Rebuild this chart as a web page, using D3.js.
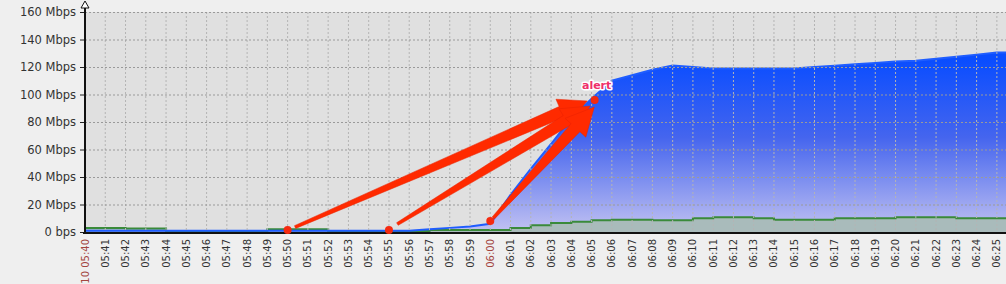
<!DOCTYPE html>
<html>
<head>
  <meta charset="utf-8"/>
  <style>
    body { margin: 0; background-color: #efefef; }
    svg { display: block; font-family: "DejaVu Sans", sans-serif; }
  </style>
</head>
<body>
  <div id="traffic_chart"></div>
  <script src="https://d3js.org/d3.v7.min.js"></script>
  <script>
    // minutes 05:40 .. 06:25
    let minutes = ['05:40', '05:41', '05:42', '05:43', '05:44', '05:45', '05:46', '05:47', '05:48', '05:49',
                   '05:50', '05:51', '05:52', '05:53', '05:54', '05:55', '05:56', '05:57', '05:58', '05:59',
                   '06:00', '06:01', '06:02', '06:03', '06:04', '06:05', '06:06', '06:07', '06:08', '06:09',
                   '06:10', '06:11', '06:12', '06:13', '06:14', '06:15', '06:16', '06:17', '06:18', '06:19',
                   '06:20', '06:21', '06:22', '06:23', '06:24', '06:25'];
    // Mbps
    let inbound = [1, 1, 1, 1, 1, 1, 1, 1, 1, 1,
                   1, 1, 1, 1, 1, 1, 1, 2, 3, 4,
                   6, 27, 46, 64, 83, 97, 110, 114, 118, 121,
                   120, 119, 119, 119, 119, 119, 120, 121, 122, 123,
                   124, 124.5, 126, 127.5, 129, 130.5];
    let outbound = [3, 3, 2.5, 2.5, 0.8, 0.8, 0.8, 0.8, 0.8, 2,
                    2, 2, 0.8, 0.8, 0.8, 0.8, 0.8, 1.5, 1.5, 1.5,
                    1.5, 3, 5, 6.5, 7.5, 8.5, 9, 9, 8.5, 8.5,
                    10, 10.7, 10.7, 10, 9, 9, 9, 10, 10, 10,
                    10.7, 10.7, 10.7, 10, 10, 10];
    let yTicks = [0, 20, 40, 60, 80, 100, 120, 140, 160];
    let tickLabels = minutes.map(function (m, i) { return i === 0 ? '11-10 ' + m : m; });
    let markedTicks = ['05:40', '06:00'];

    // annotation: marked points and arrows (time, Mbps)
    let markerTimes = ['05:50:00', '05:55:00', '06:00:00', '06:05:09'];
    let markerValues = [1.5, 1.5, 8, 96];
    let arrowFrom = [['05:50:22', 3.6], ['05:55:25', 5.8], ['06:00:09', 10.2]];
    let arrowTo = [['06:04:47', 95.3], ['06:04:56', 91.6], ['06:05:08', 90.9]];
    let alertText = 'alert';

    let width = 1006,
        height = 284,
        margin = {'left': 85, 'right': -1, 'top': 12, 'bottom': 52};

    let parseMin = d3.timeParse('%H:%M'),
        parseSec = d3.timeParse('%H:%M:%S');

    let x = d3.scaleTime()
        .domain([parseMin('05:40'), parseSec('06:25:30')])
        .range([margin.left, width - margin.right]);
    let y = d3.scaleLinear()
        .domain([0, 160])
        .range([height - margin.bottom, margin.top]);

    let svg = d3.select('#traffic_chart')
        .append('svg')
        .attr('width', width)
        .attr('height', height);

    let defs = svg.append('defs');
    let grad = defs.append('linearGradient')
        .attr('id', 'blueFill')
        .attr('gradientUnits', 'userSpaceOnUse')
        .attr('x1', 0).attr('x2', 0)
        .attr('y1', y(125)).attr('y2', y(0));
    grad.append('stop').attr('offset', 0).attr('stop-color', '#0a4dff');
    grad.append('stop').attr('offset', 0.45).attr('stop-color', '#4565ee');
    grad.append('stop').attr('offset', 1).attr('stop-color', '#c2c2f2');

    defs.append('clipPath').attr('id', 'plotClip')
        .append('rect')
        .attr('x', margin.left).attr('y', margin.top)
        .attr('width', width - margin.left).attr('height', y(0) - margin.top);

    // plot background
    svg.append('rect')
        .attr('x', margin.left).attr('y', margin.top)
        .attr('width', width - margin.left)
        .attr('height', y(0) - margin.top)
        .attr('fill', '#e0e0e0');

    let inData = minutes.map(function (m, i) { return {t: parseMin(m), v: inbound[i]}; });
    let outData = minutes.map(function (m, i) { return {t: parseMin(m), v: outbound[i]}; });
    inData.push({t: parseSec('06:25:30'), v: inbound[inbound.length - 1]});
    outData.push({t: parseSec('06:25:30'), v: outbound[outbound.length - 1]});

    let plot = svg.append('g').attr('clip-path', 'url(#plotClip)');

    let inArea = d3.area()
        .x(function (d) { return x(d.t); })
        .y0(y(0))
        .y1(function (d) { return y(d.v); });
    let inLine = d3.line()
        .x(function (d) { return x(d.t); })
        .y(function (d) { return y(d.v); });
    let outArea = d3.area()
        .curve(d3.curveStepAfter)
        .x(function (d) { return x(d.t); })
        .y0(y(0))
        .y1(function (d) { return y(d.v); });
    let outLine = d3.line()
        .curve(d3.curveStepAfter)
        .x(function (d) { return x(d.t); })
        .y(function (d) { return y(d.v); });

    plot.append('path').datum(inData)
        .attr('d', inArea)
        .attr('fill', 'url(#blueFill)');
    plot.append('path').datum(outData)
        .attr('d', outArea)
        .attr('fill', '#a9bbbb');

    // grid on top of the areas
    let grid = svg.append('g');
    grid.selectAll('.vgrid')
        .data(minutes.slice(1))
        .enter()
        .append('line')
        .attr('x1', function (m) { return x(parseMin(m)); })
        .attr('x2', function (m) { return x(parseMin(m)); })
        .attr('y1', margin.top)
        .attr('y2', y(0))
        .attr('stroke', '#b4b4b4')
        .attr('stroke-dasharray', '2,2');
    grid.selectAll('.hgrid')
        .data(yTicks.slice(1))
        .enter()
        .append('line')
        .attr('x1', margin.left)
        .attr('x2', width)
        .attr('y1', function (v) { return y(v) + 0.5; })
        .attr('y2', function (v) { return y(v) + 0.5; })
        .attr('stroke', '#9a9a9a')
        .attr('stroke-dasharray', '2,2');

    plot.append('path').datum(outData)
        .attr('d', outLine)
        .attr('fill', 'none')
        .attr('stroke', '#3a8a3a')
        .attr('stroke-width', 2);
    plot.append('path').datum(inData)
        .attr('d', inLine)
        .attr('fill', 'none')
        .attr('stroke', '#1f5dff')
        .attr('stroke-width', 2);

    // y axis
    let yAxis = d3.axisLeft(y)
        .tickValues(yTicks)
        .tickSize(5)
        .tickFormat(function (v) { return v === 0 ? '0 bps' : v + ' Mbps'; });
    let gy = svg.append('g')
        .attr('transform', 'translate(' + margin.left + ',0)')
        .call(yAxis);
    gy.select('.domain').remove();
    gy.selectAll('text')
        .attr('x', -9)
        .attr('font-family', '"DejaVu Sans", sans-serif')
        .attr('font-size', '11.5px')
        .attr('fill', '#333');
    gy.selectAll('line').attr('stroke', '#222');

    svg.append('line')
        .attr('x1', margin.left).attr('x2', margin.left)
        .attr('y1', 4).attr('y2', y(0) + 2)
        .attr('stroke', '#111').attr('stroke-width', 2);
    svg.append('path')
        .attr('d', d3.line()([[margin.left - 4, 8], [margin.left, 1], [margin.left + 4, 8], [margin.left - 4, 8]]))
        .attr('fill', '#fff')
        .attr('stroke', '#111')
        .attr('stroke-width', 1);

    // x axis
    svg.append('line')
        .attr('x1', margin.left - 2).attr('x2', width)
        .attr('y1', y(0) + 1).attr('y2', y(0) + 1)
        .attr('stroke', '#111').attr('stroke-width', 2);

    svg.append('g').selectAll('text')
        .data(minutes)
        .enter()
        .append('text')
        .attr('transform', function (m) { return 'translate(' + x(parseMin(m)) + ',' + (y(0) + 7) + ') rotate(-90)'; })
        .attr('text-anchor', 'end')
        .attr('dy', '0.35em')
        .attr('font-size', '10px')
        .attr('fill', function (m) { return markedTicks.indexOf(m) >= 0 ? '#a3453f' : '#333'; })
        .text(function (m, i) { return tickLabels[i]; });

    // annotation arrows
    function arrowPath(p0, p1) {
      let dx = p1[0] - p0[0], dy = p1[1] - p0[1];
      let len = Math.sqrt(dx * dx + dy * dy);
      let ux = dx / len, uy = dy / len, nx = -uy, ny = ux;
      let headLen = 28, headHalf = 14, tailHalf = 1.5, neckHalf = 6;
      let bx = p1[0] - ux * headLen, by = p1[1] - uy * headLen;
      let pts = [
        [p0[0] + nx * tailHalf, p0[1] + ny * tailHalf],
        [bx + nx * neckHalf, by + ny * neckHalf],
        [bx + nx * headHalf, by + ny * headHalf],
        p1,
        [bx - nx * headHalf, by - ny * headHalf],
        [bx - nx * neckHalf, by - ny * neckHalf],
        [p0[0] - nx * tailHalf, p0[1] - ny * tailHalf]
      ];
      return d3.line()(pts) + 'Z';
    }

    let ann = svg.append('g');
    ann.selectAll('.arrow')
        .data(arrowFrom)
        .enter()
        .append('path')
        .attr('d', function (a, i) {
          return arrowPath([x(parseSec(a[0])), y(a[1])],
                           [x(parseSec(arrowTo[i][0])), y(arrowTo[i][1])]);
        })
        .attr('fill', '#ff2a00')
        .attr('stroke', '#e82200')
        .attr('stroke-width', 0.5);

    ann.selectAll('.marker')
        .data(markerTimes)
        .enter()
        .append('circle')
        .attr('cx', function (t) { return x(parseSec(t)); })
        .attr('cy', function (t, i) { return y(markerValues[i]); })
        .attr('r', 4)
        .attr('fill', '#f52a10');

    let last = markerTimes.length - 1;
    let ax = x(parseSec(markerTimes[last])) + 2,
        ay = y(markerValues[last]) - 15;
    ann.append('text')
        .attr('x', ax).attr('y', ay)
        .attr('dy', '0.35em')
        .attr('text-anchor', 'middle')
        .attr('font-size', '11px')
        .attr('font-weight', 'bold')
        .attr('fill', '#ee2f6a')
        .attr('stroke', '#fff')
        .attr('stroke-width', 3)
        .attr('stroke-linejoin', 'round')
        .attr('paint-order', 'stroke')
        .text(alertText);
  </script>
</body>
</html>
